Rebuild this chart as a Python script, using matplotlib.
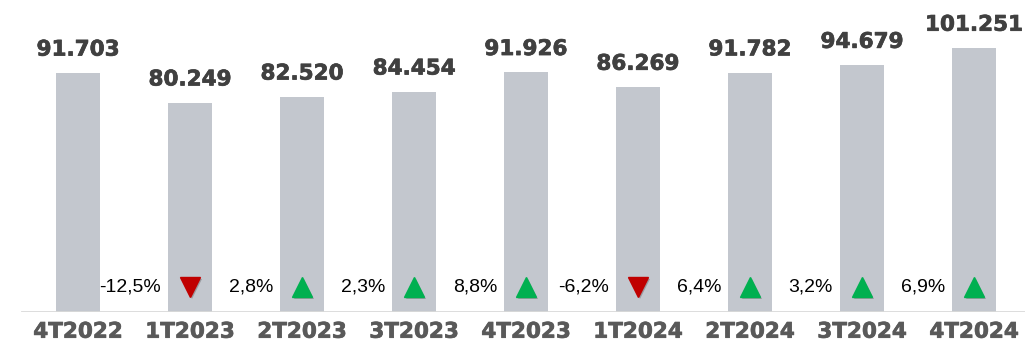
import matplotlib
matplotlib.use("Agg")
import matplotlib.pyplot as plt
import matplotlib.patheffects as pe

# Quarterly totals (thousands)
quarters = ["4T2022", "1T2023", "2T2023", "3T2023", "4T2023",
            "1T2024", "2T2024", "3T2024", "4T2024"]
values = [91703, 80249, 82520, 84454, 91926, 86269, 91782, 94679, 101251]

BAR_COLOR = "#c3c7ce"
UP_COLOR = "#00b050"
DOWN_COLOR = "#c00000"


def fmt_thousands(v):
    return f"{v:,}".replace(",", ".")


def fmt_pct(p):
    return f"{p:.1f}%".replace(".", ",")


fig = plt.figure(figsize=(10.25, 3.51), dpi=100, facecolor="white")
ax = fig.add_axes([0, 39 / 351, 1, 312 / 351])

x = list(range(len(values)))
ax.bar(x, values, width=0.393, color=BAR_COLOR, zorder=2)

ax.set_xlim(-78 / 112, (1025 - 78) / 112)
ax.set_ylim(0, 119700)

# a thin stroke makes the bold labels a little heavier
heavy_val = [pe.withStroke(linewidth=0.5, foreground="#404040")]
heavy_tick = [pe.withStroke(linewidth=0.5, foreground="#595959")]

# value labels above each bar
for xi, v in zip(x, values):
    ax.annotate(fmt_thousands(v), (xi, v), xytext=(0, 12.5),
                textcoords="offset points", ha="center", va="baseline",
                fontsize=15.5, fontweight="bold", color="#404040",
                family="DejaVu Sans", path_effects=heavy_val)

# quarter-on-quarter change with arrow marker
shadow = [pe.SimplePatchShadow(offset=(1.5, -1.5), shadow_rgbFace="#666666", alpha=0.45),
          pe.Normal()]
trans = ax.get_xaxis_transform()
for i in range(1, len(values)):
    pct = (values[i] / values[i - 1] - 1) * 100
    ax.annotate(fmt_pct(pct), (x[i] - 0.393 / 2, 0.08), xycoords=trans,
                xytext=(-5, 0), textcoords="offset points",
                ha="right", va="center", fontsize=14, color="black",
                family="Liberation Sans", zorder=4)
    up = pct >= 0
    ax.plot(x[i], 0.08, marker="^" if up else "v", markersize=14,
            color=UP_COLOR if up else DOWN_COLOR, linestyle="none",
            transform=trans, zorder=4, path_effects=shadow)

# baseline
ax.axhline(0, xmin=22 / 1025, xmax=1, color="#d9d9d9", linewidth=2, zorder=3)

for s in ax.spines.values():
    s.set_visible(False)
ax.set_yticks([])
ax.set_xticks(x)
ax.set_xticklabels(quarters, fontsize=15.5, fontweight="bold", color="#595959",
                   family="DejaVu Sans")
for lbl in ax.get_xticklabels():
    lbl.set_path_effects(heavy_tick)
ax.tick_params(axis="x", length=0, pad=7)

fig.savefig("out.png", dpi=100, facecolor="white")
